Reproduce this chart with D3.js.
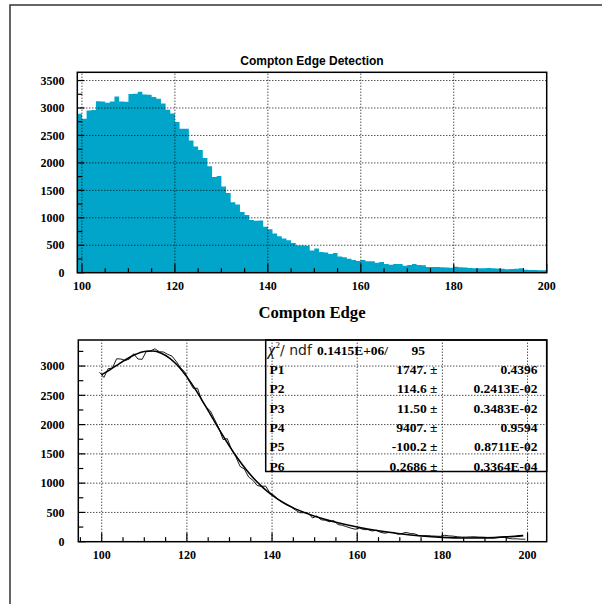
<!DOCTYPE html>
<meta charset="utf-8">
<style>
  body { margin: 0; background: #fff; }
  .lbl { font-family: "Liberation Serif", "Times New Roman", serif; font-weight: bold; font-size: 12px; fill: #000; }
</style>
<svg width="602" height="604"></svg>
<script src="https://d3js.org/d3.v7.min.js"></script>
<script>

// histogram: 1-unit bins starting at 99
var binStart = 99;
var counts = [2895, 2805, 2955, 2965, 3125, 3120, 3095, 3120, 3210, 3120,
              3115, 3255, 3260, 3295, 3245, 3240, 3200, 3170, 3080, 2970,
              2900, 2745, 2620, 2620, 2410, 2300, 2235, 2090, 1940, 1745,
              1760, 1570, 1450, 1285, 1240, 1105, 1050, 960, 945, 950,
              835, 790, 715, 665, 625, 590, 540, 495, 495, 490,
              405, 440, 375, 366, 341, 360, 293, 280, 256, 232,
              213, 232, 207, 207, 183, 195, 159, 146, 159, 159,
              128, 140, 159, 140, 134, 104, 104, 104, 98, 95,
              91, 110, 100, 95, 85, 79, 79, 82, 85, 79,
              78, 73, 61, 67, 73, 79, 55, 49, 49, 43, 43];

// fitted curve
var fitX = [100, 102, 104, 106, 108, 110, 112, 114, 116, 118, 120, 122, 124, 126, 128, 130,
            132, 134, 136, 138, 140, 145, 150, 155, 160, 165, 170, 175, 180, 185, 190, 195, 199];
var fitY = [2853, 2940, 3034, 3125, 3200, 3248, 3257, 3220, 3132, 2996, 2815, 2601, 2363, 2115, 1868, 1633,
            1417, 1224, 1057, 915, 796, 578, 436, 333, 252, 187, 136, 98, 74, 63, 66, 82, 104];

var yTicksTop = [0, 500, 1000, 1500, 2000, 2500, 3000, 3500];
var xTicksTop = [100, 120, 140, 160, 180, 200];
var yTicksBot = [0, 500, 1000, 1500, 2000, 2500, 3000];
var xTicksBot = [100, 120, 140, 160, 180, 200];

var parNames = ["P1", "P2", "P3", "P4", "P5", "P6"];
var parValues = ["1747.", "114.6", "11.50", "9407.", "-100.2", "0.2686"];
var parErrors = ["0.4396", "0.2413E-02", "0.3483E-02", "0.9594", "0.8711E-02", "0.3364E-04"];

var svg = d3.select("svg");

// page frame
svg.append("rect").attr("x", 10).attr("y", 5).attr("width", 600).attr("height", 610)
    .attr("fill", "none").attr("stroke", "#333").attr("stroke-width", 1.5);

function pad(x, y, ticksX, ticksY, gridX, gridY) {
  var g = svg.append("g");
  var x0 = x.range()[0], x1 = x.range()[1], yb = y.range()[0], yt = y.range()[1];
  var minorX = d3.range(Math.ceil(x.domain()[0] / 5) * 5, x.domain()[1] + 0.01, 5);
  var minorY = d3.range(0, y.domain()[1], 250);

  g.selectAll(".lx").data(ticksX).enter().append("text")
      .attr("class", "lbl").attr("x", x).attr("y", yb + 17)
      .attr("text-anchor", "middle").text(function(d) { return d; });
  g.selectAll(".ly").data(ticksY).enter().append("text")
      .attr("class", "lbl").attr("x", 64.5).attr("y", y).attr("dy", "0.35em")
      .attr("text-anchor", "end").text(function(d) { return d; });

  return {
    grid: function() {
      var gt = svg.append("g").attr("stroke", "#000").attr("stroke-width", 1.2);
      gt.selectAll(".tx").data(minorX).enter().append("line")
          .attr("x1", x).attr("x2", x).attr("y1", yb)
          .attr("y2", function(d) { return yb - (d % 20 === 0 ? 9 : 4.5); });
      gt.selectAll(".ty").data(minorY).enter().append("line")
          .attr("y1", y).attr("y2", y).attr("x1", x0)
          .attr("x2", function(d) { return x0 + (d % 500 === 0 ? 7 : 5); });
      var gg = svg.append("g").attr("stroke", "#000").attr("stroke-width", 1)
          .attr("stroke-dasharray", "1,2");
      gg.selectAll(".gx").data(gridX).enter().append("line")
          .attr("x1", x).attr("x2", x).attr("y1", yb).attr("y2", yt);
      gg.selectAll(".gy").data(gridY).enter().append("line")
          .attr("y1", y).attr("y2", y).attr("x1", x0).attr("x2", x1);
      svg.append("rect").attr("x", x0).attr("y", yt).attr("width", x1 - x0).attr("height", yb - yt)
          .attr("fill", "none").attr("stroke", "#000").attr("stroke-width", 1.5);
    }
  };
}

// ---------- upper pad: histogram ----------
var xh = d3.scaleLinear().domain([99, 200]).range([77.3, 546.7]);
var yh = d3.scaleLinear().domain([0, 3650]).range([272.7, 72.3]);

var steps = counts.concat([counts[counts.length - 1]]);
svg.append("path")
    .datum(steps)
    .attr("fill", "#00a5c9")
    .attr("d", d3.area().curve(d3.curveStepAfter)
        .x(function(d, i) { return xh(binStart + i); })
        .y0(yh(0))
        .y1(function(d) { return yh(d); }));

var padTop = pad(xh, yh, xTicksTop, yTicksTop, [100, 120, 140, 160, 180], [500, 1000, 1500, 2000, 2500, 3000, 3500]);
padTop.grid();

svg.append("text").attr("x", 312).attr("y", 65).attr("text-anchor", "middle")
    .style("font-family", "'Liberation Sans', Arial, sans-serif").style("font-weight", "bold")
    .style("font-size", "12px").text("Compton Edge Detection");

// ---------- lower pad: graph + fit ----------
var xg = d3.scaleLinear().domain([94.5, 204.5]).range([78.3, 546.7]);
var yg = d3.scaleLinear().domain([0, 3445]).range([541.7, 340]);

svg.append("text").attr("x", 312).attr("y", 317.5).attr("text-anchor", "middle")
    .style("font-family", "'Liberation Serif', 'Times New Roman', serif").style("font-weight", "bold")
    .style("font-size", "16.7px").text("Compton Edge");

var padBot = pad(xg, yg, xTicksBot, yTicksBot, [100, 120, 140, 160, 180, 200], [500, 1000, 1500, 2000, 2500, 3000]);

svg.append("path")
    .datum(counts)
    .attr("fill", "none").attr("stroke", "#000").attr("stroke-width", 0.9)
    .attr("d", d3.line()
        .x(function(d, i) { return xg(binStart + i + 0.5); })
        .y(function(d) { return yg(d); }));

svg.append("path")
    .datum(fitX)
    .attr("fill", "none").attr("stroke", "#000").attr("stroke-width", 1.6)
    .attr("d", d3.line().curve(d3.curveMonotoneX)
        .x(function(d) { return xg(d); })
        .y(function(d, i) { return yg(fitY[i]); }));

// stats box
var bx0 = 265.7, bx1 = 546.7, by0 = 340, by1 = 471.5;
svg.append("rect").attr("x", bx0).attr("y", by0).attr("width", bx1 - bx0).attr("height", by1 - by0)
    .attr("fill", "#fff").attr("stroke", "#000").attr("stroke-width", 1.5);

var serif = "'Liberation Serif', 'Times New Roman', serif";
var hdr = svg.append("text").attr("x", 268).attr("y", 354.5)
    .style("font-family", serif).style("font-size", "13.5px");
hdr.append("tspan").style("font-style", "italic").style("font-size", "16px").text("\u03c7");
hdr.append("tspan").attr("dy", -7).attr("dx", 0.5).style("font-size", "9px").text("2");
hdr.append("tspan").attr("dy", 7).style("font-family", "'DejaVu Sans', sans-serif").style("font-size", "14px")
    .style("font-weight", "normal").style("fill", "#222").text("/ ndf");
hdr.append("tspan").attr("x", 317).style("font-weight", "bold").text("0.1415E+06/");
svg.append("text").attr("x", 425).attr("y", 354.5).attr("text-anchor", "end")
    .style("font-family", serif).style("font-weight", "bold").style("font-size", "13.5px").text("95");

var rows = svg.append("g").selectAll("g").data(parNames).enter().append("g")
    .attr("transform", function(d, i) { return "translate(0," + (369.3 + i * 19.3) + ")"; })
    .style("font-family", serif).style("font-weight", "bold").style("font-size", "13.5px");
rows.append("text").attr("x", 269.5).attr("dy", "0.35em").text(function(d) { return d; });
rows.append("text").attr("x", 437.5).attr("dy", "0.35em").attr("text-anchor", "end")
    .text(function(d, i) { return parValues[i] + " \u00b1"; });
rows.append("text").attr("x", 537.5).attr("dy", "0.35em").attr("text-anchor", "end")
    .text(function(d, i) { return parErrors[i]; });

padBot.grid();

</script>
